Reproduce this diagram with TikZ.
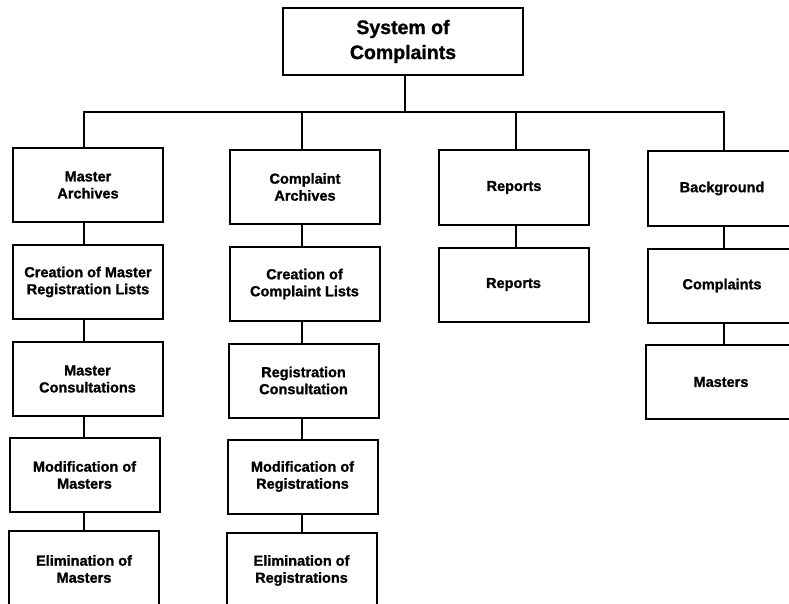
\documentclass[tikz,border=0pt]{standalone}
\usepackage{fontspec}
\setmainfont{Liberation Sans}[BoldFeatures={FakeBold=1.2}]
\begin{document}
\begin{tikzpicture}[x=1pt,y=-1pt,line width=2pt,
  box/.style={draw, minimum width=150pt, minimum height=74pt, align=center, inner sep=0pt,
    font=\fontsize{14.5}{17}\selectfont\bfseries},
  titlebox/.style={draw, minimum width=240pt, minimum height=67pt, align=center, inner sep=0pt,
    font=\fontsize{19.5}{25}\selectfont\bfseries},
  link/.style={line width=2pt}]
\useasboundingbox (0,0) rectangle (789,604);
\clip (0,0) rectangle (789,604);

\node[titlebox] (top) at (403,41.5) {System of\\Complaints};

\node[box] (A1) at (88,185) {Master\\Archives};
\node[box] (A2) at (88,282) {Creation of Master\\Registration Lists};
\node[box] (A3) at (87.5,379) {Master\\Consultations};
\node[box] (A4) at (84.5,475) {Modification of\\Masters};
\node[box, minimum height=76pt] (A5) at (84,569) {Elimination of\\Masters};

\node[box] (B1) at (305,187) {Complaint\\Archives};
\node[box] (B2) at (304.5,284) {Creation of\\Complaint Lists};
\node[box] (B3) at (303.5,380.5) {Registration\\Consultation};
\node[box] (B4) at (302.5,476.5) {Modification of\\Registrations};
\node[box, minimum height=76pt] (B5) at (301.5,570.5) {Elimination of\\Registrations};

\node[box] (C1) at (514,187.5) {Reports};
\node[box] (C2) at (513.5,284.5) {Reports};

\node[box, minimum width=148pt] (D1) at (722,188.5) {Background};
\node[box, minimum width=148pt] (D2) at (722,285.5) {Complaints};
\node[box, minimum width=150pt] (D3) at (721,382) {Masters};

\coordinate (bar) at (405,112);
\coordinate (c1) at (84,0);
\coordinate (c2) at (302,0);
\coordinate (c3) at (516,0);
\coordinate (c4) at (724,0);

\draw[link] (top.south -| bar) -- (bar);
\draw[link] (A1.north -| c1) -- (c1 |- bar) -- (c4 |- bar) -- (D1.north -| c4);
\draw[link] (c2 |- bar) -- (B1.north -| c2);
\draw[link] (c3 |- bar) -- (C1.north -| c3);

\draw[link] (A1.south -| c1) -- (A2.north -| c1);
\draw[link] (A2.south -| c1) -- (A3.north -| c1);
\draw[link] (A3.south -| c1) -- (A4.north -| c1);
\draw[link] (A4.south -| c1) -- (A5.north -| c1);

\draw[link] (B1.south -| c2) -- (B2.north -| c2);
\draw[link] (B2.south -| c2) -- (B3.north -| c2);
\draw[link] (B3.south -| c2) -- (B4.north -| c2);
\draw[link] (B4.south -| c2) -- (B5.north -| c2);

\draw[link] (C1.south -| c3) -- (C2.north -| c3);

\draw[link] (D1.south -| c4) -- (D2.north -| c4);
\draw[link] (D2.south -| c4) -- (D3.north -| c4);
\end{tikzpicture}
\end{document}
